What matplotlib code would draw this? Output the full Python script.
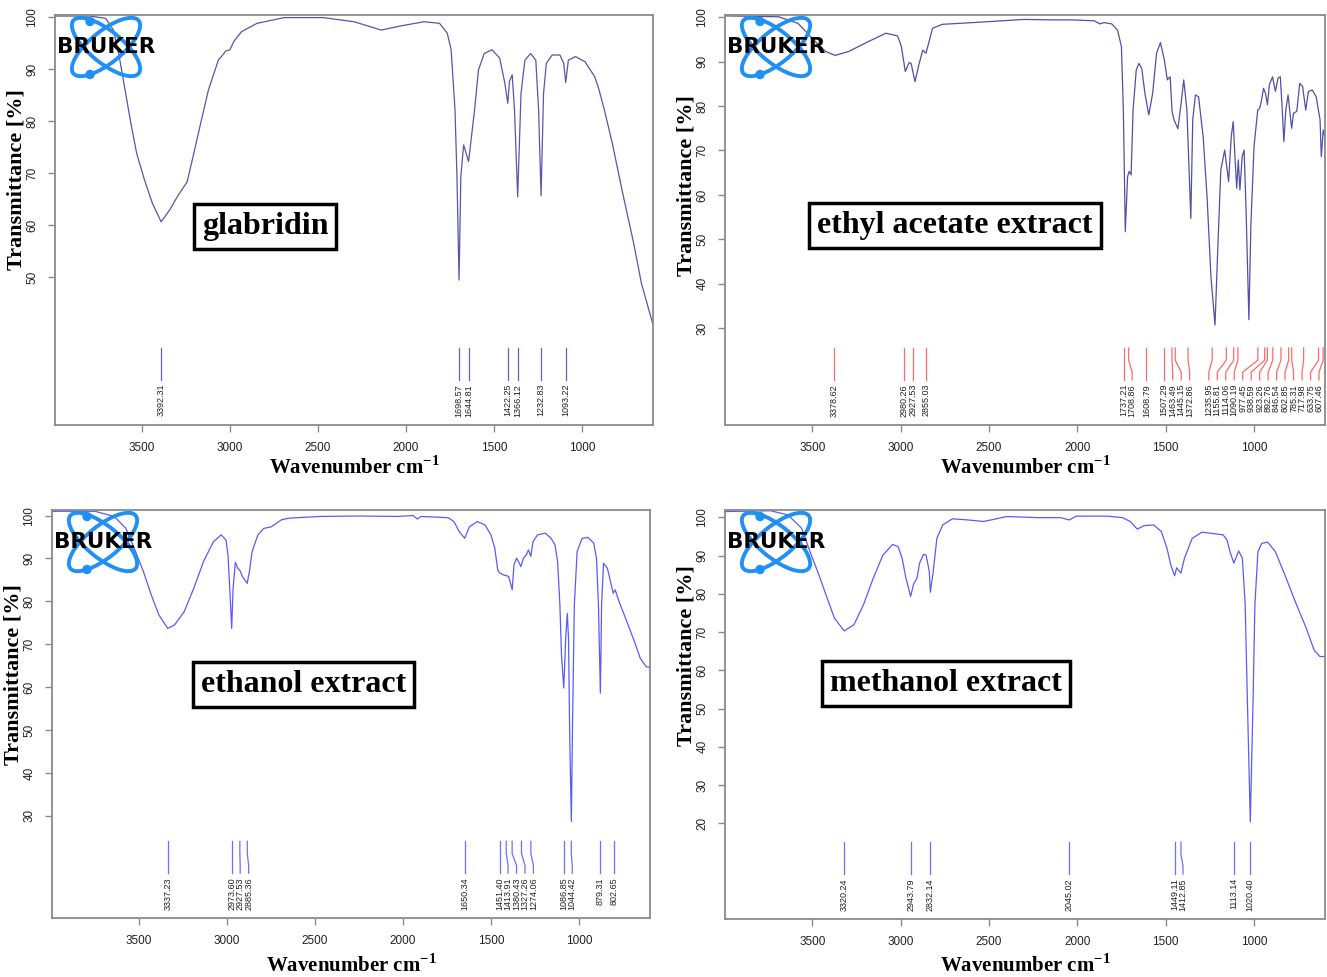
import numpy as np
import matplotlib.pyplot as plt
import matplotlib.transforms as mtransforms
from matplotlib.patches import Ellipse, Circle

plt.rcParams['mathtext.fontset'] = 'custom'
plt.rcParams['mathtext.rm'] = 'Liberation Serif'
plt.rcParams['mathtext.bf'] = 'Liberation Serif:bold'

W, H = 1327, 977

# ---- glabridin ----
glab_wn = [3994, 3795, 3707, 3663, 3630, 3597, 3564, 3531, 3487, 3442, 3392, 3343, 3299, 3244, 3211,
           3167, 3123, 3067, 3023, 3001, 2979, 2935, 2847, 2692, 2472, 2295, 2141, 2031, 1898, 1810,
           1766, 1744, 1722, 1711, 1699, 1689, 1673, 1645, 1611, 1589, 1556, 1512, 1468, 1439, 1422,
           1413, 1397, 1384, 1366, 1347, 1325, 1292, 1263, 1247, 1233, 1219, 1203, 1170, 1126, 1104,
           1093, 1078, 1038, 983, 928, 906, 873, 828, 773, 707, 663, 597]
glab_t = [100.2, 100.2, 99.75, 97.5, 92.4, 86.0, 79.6, 73.8, 68.7, 64.2, 60.6, 62.9, 65.5, 68.3, 73.1,
          79.6, 86.0, 91.7, 93.5, 93.7, 95.3, 97.2, 98.8, 99.9, 99.9, 99.1, 97.5, 98.3, 99.1, 98.8,
          96.9, 93.7, 82.1, 69.3, 49.4, 69.3, 75.4, 72.2, 82.1, 89.8, 93.0, 93.7, 92.1, 87.3, 83.4,
          87.6, 88.9, 82.1, 65.4, 85.3, 91.7, 93.0, 91.7, 82.1, 65.6, 85.3, 91.1, 92.7, 92.7, 91.1,
          87.4, 91.7, 92.4, 91.4, 88.5, 86.3, 82.1, 75.7, 66.7, 56.5, 48.8, 40.8]
glab_peaks = [3392.31, 1698.57, 1644.81, 1422.25, 1366.12, 1232.83, 1093.22]

# ---- ethyl acetate extract ----
ea_wn = [3989, 3691, 3581, 3493, 3426, 3371, 3294, 3184, 3084, 3018, 2996, 2974, 2952, 2941, 2919,
         2897, 2875, 2857, 2842, 2820, 2765, 2588, 2301, 2147, 2037, 1904, 1871, 1849, 1805, 1772,
         1750, 1739, 1728, 1715, 1706, 1695, 1684, 1666, 1651, 1635, 1617, 1595, 1573, 1551, 1529,
         1507, 1490, 1474, 1463, 1452, 1430, 1412, 1397, 1379, 1357, 1346, 1331, 1313, 1287, 1265,
         1243, 1220, 1203, 1187, 1165, 1143, 1128, 1117, 1106, 1097, 1088, 1079, 1066, 1055, 1044,
         1028, 1017, 999, 978, 967, 956, 945, 934, 923, 912, 894, 878, 863, 850, 839,
         830, 819, 806, 797, 786, 775, 757, 740, 724, 706, 691, 669, 647, 625, 618,
         607, 598, 592]
ea_t = [100.3, 100.1, 98.6, 94.9, 92.3, 91.4, 92.3, 94.5, 96.4, 95.8, 93.4, 87.8, 89.8, 89.6, 85.5,
        89.3, 92.6, 91.9, 94.1, 97.5, 98.4, 98.8, 99.5, 99.4, 99.4, 99.2, 98.5, 98.8, 98.5, 97.1,
        93.4, 79.1, 51.7, 64.1, 65.3, 64.5, 79.1, 88.1, 89.6, 88.5, 82.9, 78.0, 82.9, 91.9, 94.3,
        90.4, 85.9, 86.6, 78.8, 76.9, 74.9, 80.6, 85.9, 79.1, 54.7, 76.9, 82.5, 82.1, 73.1, 59.6,
        41.6, 30.7, 49.1, 65.6, 70.1, 63.0, 73.1, 76.5, 67.9, 61.5, 67.9, 61.1, 68.6, 70.1, 56.6,
        31.9, 52.9, 70.9, 79.1, 79.5, 81.4, 84.0, 82.9, 80.3, 84.8, 86.6, 83.3, 86.3, 86.6, 79.1,
        72.0, 79.1, 82.5, 79.1, 75.0, 78.4, 78.8, 85.1, 84.4, 79.1, 83.3, 83.6, 82.1, 76.9, 68.6,
        74.6, 73.1, 64.5]
ea_peaks = [3378.62, 2980.26, 2927.53, 2855.03, 1737.21, 1708.86, 1608.79, 1507.29, 1463.49,
            1445.15, 1372.86, 1235.95, 1155.81, 1114.06, 1090.19, 977.45, 938.59, 923.26, 892.76,
            846.54, 802.85, 785.31, 717.98, 633.75, 607.46]

# ---- ethanol extract ----
eth_wn = [3994, 3751, 3641, 3575, 3520, 3476, 3431, 3387, 3337, 3299, 3244, 3189, 3134, 3078, 3034,
          3006, 2995, 2984, 2974, 2966, 2953, 2939, 2927, 2913, 2886, 2873, 2858, 2825, 2792, 2748,
          2692, 2648, 2472, 2251, 2031, 1942, 1920, 1898, 1744, 1711, 1682, 1650, 1623, 1578, 1534,
          1501, 1479, 1462, 1451, 1431, 1414, 1400, 1380, 1370, 1355, 1330, 1316, 1300, 1288, 1274,
          1262, 1236, 1192, 1159, 1137, 1122, 1109, 1100, 1087, 1076, 1067, 1060, 1053, 1044, 1037,
          1027, 1011, 983, 950, 917, 901, 890, 879, 872, 861, 839, 817, 806, 795, 773,
          729, 685, 652, 619, 599]
eth_t = [101.0, 101.0, 99.8, 97.0, 91.6, 87.0, 81.5, 76.8, 73.7, 74.5, 77.6, 83.1, 89.3, 93.9, 95.5,
         94.3, 90.8, 82.3, 73.7, 83.1, 89.1, 87.7, 87.2, 85.8, 84.2, 87.0, 91.6, 95.5, 97.0, 97.4,
         99.0, 99.4, 99.8, 99.9, 99.8, 100.0, 99.2, 99.8, 99.5, 98.6, 96.3, 94.7, 97.4, 98.6, 97.8,
         95.5, 92.4, 87.3, 86.6, 86.2, 86.0, 85.8, 82.7, 88.5, 90.1, 88.1, 90.1, 90.8, 92.0, 90.5,
         93.9, 95.5, 95.9, 94.7, 93.2, 89.3, 79.2, 67.5, 59.8, 71.4, 77.2, 71.4, 48.1, 28.7, 52.0,
         79.2, 91.6, 94.7, 94.9, 93.6, 90.1, 79.2, 58.6, 79.2, 88.9, 87.7, 83.8, 81.9, 82.7, 80.0,
         75.3, 70.6, 66.7, 64.8, 64.6]
eth_peaks = [3337.23, 2973.60, 2927.53, 2885.36, 1650.34, 1451.40, 1413.91, 1380.43, 1327.26,
             1274.06, 1086.85, 1044.42, 879.31, 802.65]

# ---- methanol extract ----
meth_wn = [3988, 3736, 3638, 3561, 3506, 3463, 3419, 3375, 3320, 3265, 3211, 3156, 3101, 3046, 3014,
           2992, 2970, 2955, 2944, 2926, 2908, 2893, 2871, 2856, 2838, 2832, 2816, 2795, 2762, 2707,
           2619, 2532, 2488, 2400, 2225, 2094, 2045, 2006, 1831, 1743, 1700, 1660, 1623, 1568, 1524,
           1492, 1470, 1449, 1437, 1413, 1393, 1349, 1294, 1240, 1174, 1152, 1135, 1113, 1086, 1065,
           1049, 1036, 1020, 1005, 994, 977, 955, 922, 878, 824, 758, 703, 659, 626, 600]
meth_t = [101.5, 101.7, 100.6, 97.1, 90.1, 84.9, 79.2, 73.6, 70.3, 71.9, 77.1, 84.0, 90.1, 92.9, 92.3,
          89.3, 84.0, 81.4, 79.3, 82.7, 84.0, 88.0, 90.3, 90.1, 85.8, 80.4, 85.8, 94.5, 98.0, 99.6,
          99.3, 98.9, 99.3, 100.2, 99.9, 99.9, 99.3, 100.3, 100.3, 99.9, 98.9, 96.9, 97.8, 98.0, 96.3,
          91.9, 87.5, 84.7, 86.8, 85.4, 89.3, 94.5, 96.1, 95.8, 95.4, 94.1, 91.0, 88.0, 91.2, 89.3,
          77.1, 50.9, 20.4, 50.9, 77.1, 91.0, 93.2, 93.5, 91.0, 84.9, 77.1, 71.0, 65.3, 63.6, 63.6]
meth_peaks = [3320.24, 2943.79, 2832.14, 2045.02, 1449.11, 1412.85, 1113.14, 1020.40]

x_ticks = [3500, 3000, 2500, 2000, 1500, 1000]

fig = plt.figure(figsize=(W / 100, H / 100), dpi=100)


def spread_labels(peaks, right_limit, gap=48.0):
    pos = list(peaks)
    for i in range(1, len(pos)):
        pos[i] = min(pos[i], pos[i - 1] - gap)
    if pos[-1] < right_limit:
        pos[-1] = right_limit
        for i in range(len(pos) - 2, -1, -1):
            pos[i] = max(pos[i], pos[i + 1] + gap)
    return pos


def add_logo(left_px, top_px):
    cx, cy = left_px + 51, top_px + 32
    lax = fig.add_axes([(cx - 60) / W, 1 - (cy + 40) / H, 120 / W, 80 / H])
    lax.set_xlim(-60, 60)
    lax.set_ylim(-40, 40)
    lax.axis('off')
    blue = '#2190f5'
    for ang in (39, -39):
        lax.add_patch(Ellipse((0, 0), 84, 32, angle=ang, fill=False, ec=blue, lw=2.8))
    lax.add_patch(Circle((-16, 25.5), 4, color=blue))
    lax.add_patch(Circle((-16, -27.5), 4, color=blue))
    lax.text(0, 0, 'BRUKER', ha='center', va='center', fontsize=15.5, fontweight='heavy',
             family='DejaVu Sans', color='black')


def panel(rect, wn, t, ylim, yticks, peaks, line_col, peak_col, name, box_xy, ylab_y, xlab_off):
    l, tp, r, b = rect
    ax = fig.add_axes([l / W, 1 - b / H, (r - l) / W, (b - tp) / H])
    ax.plot(wn, t, color=line_col, lw=0.9)
    ax.set_xlim(3995, 597)
    ax.set_ylim(*ylim)
    ax.set_xticks(x_ticks)
    ax.set_yticks(yticks)
    for sp in ax.spines.values():
        sp.set_color('#8a8a8a')
        sp.set_linewidth(1.3)
    ax.tick_params(direction='out', length=5, width=1, color='#8a8a8a', labelsize=8.5, pad=7,
                   labelcolor='#222222')
    for lb in ax.get_xticklabels() + ax.get_yticklabels():
        lb.set_family('Liberation Sans')
    for lb in ax.get_yticklabels():
        lb.set_rotation(90)
        lb.set_va('center')

    # peak pick markers
    trans = mtransforms.blended_transform_factory(ax.transData, ax.transAxes)
    pk = sorted(peaks, reverse=True)
    lab = spread_labels(pk, 631)
    for p, q in zip(pk, lab):
        ax.plot([p, p, q, q], [0.188, 0.158, 0.129, 0.110], transform=trans, color=peak_col,
                lw=0.9, clip_on=False)
        ax.text(q, 0.100, f'{p:.2f}', rotation=90, ha='center', va='top', fontsize=6.5,
                family='Liberation Sans', color='#222222', transform=trans)

    ax.text(box_xy[0], box_xy[1], name, transform=ax.transAxes, ha='center', va='center',
            fontsize=23, fontweight='bold', family='Liberation Serif',
            bbox=dict(boxstyle='square,pad=0.25', fc='white', ec='black', lw=2.5))
    ax.text(-38 / (r - l), ylab_y, 'Transmittance [%]', rotation=90, transform=ax.transAxes,
            ha='center', va='center', fontsize=16, fontweight='bold', family='Liberation Serif')
    ax.text(0.5, -xlab_off / (b - tp), 'Wavenumber cm$^{\\mathbf{-1}}$', transform=ax.transAxes,
            ha='center', va='center', fontsize=15, fontweight='bold', family='Liberation Serif')
    add_logo(l, tp)
    return ax


panel((55, 15, 653, 425), glab_wn, glab_t, (21.5, 100.4), [50, 60, 70, 80, 90, 100], glab_peaks,
      '#5656ac', '#6464cc', 'glabridin', (0.351, 0.484), 0.598, 43)
panel((725, 15, 1325, 425), ea_wn, ea_t, (8.2, 100.5), [30, 40, 50, 60, 70, 80, 90, 100], ea_peaks,
      '#5050a8', '#ff6a6a', 'ethyl acetate extract', (0.383, 0.487), 0.585, 43)
panel((52, 510, 650, 918), eth_wn, eth_t, (6.2, 101.3), [30, 40, 50, 60, 70, 80, 90, 100], eth_peaks,
      '#5a5aff', '#6e6eff', 'ethanol extract', (0.42, 0.572), 0.596, 47)
panel((725, 510, 1325, 919), meth_wn, meth_t, (-5.0, 101.9), [20, 30, 40, 50, 60, 70, 80, 90, 100],
      meth_peaks, '#5a5aff', '#6e6eff', 'methanol extract', (0.368, 0.576), 0.645, 46)

fig.savefig('out.png', dpi=100)
